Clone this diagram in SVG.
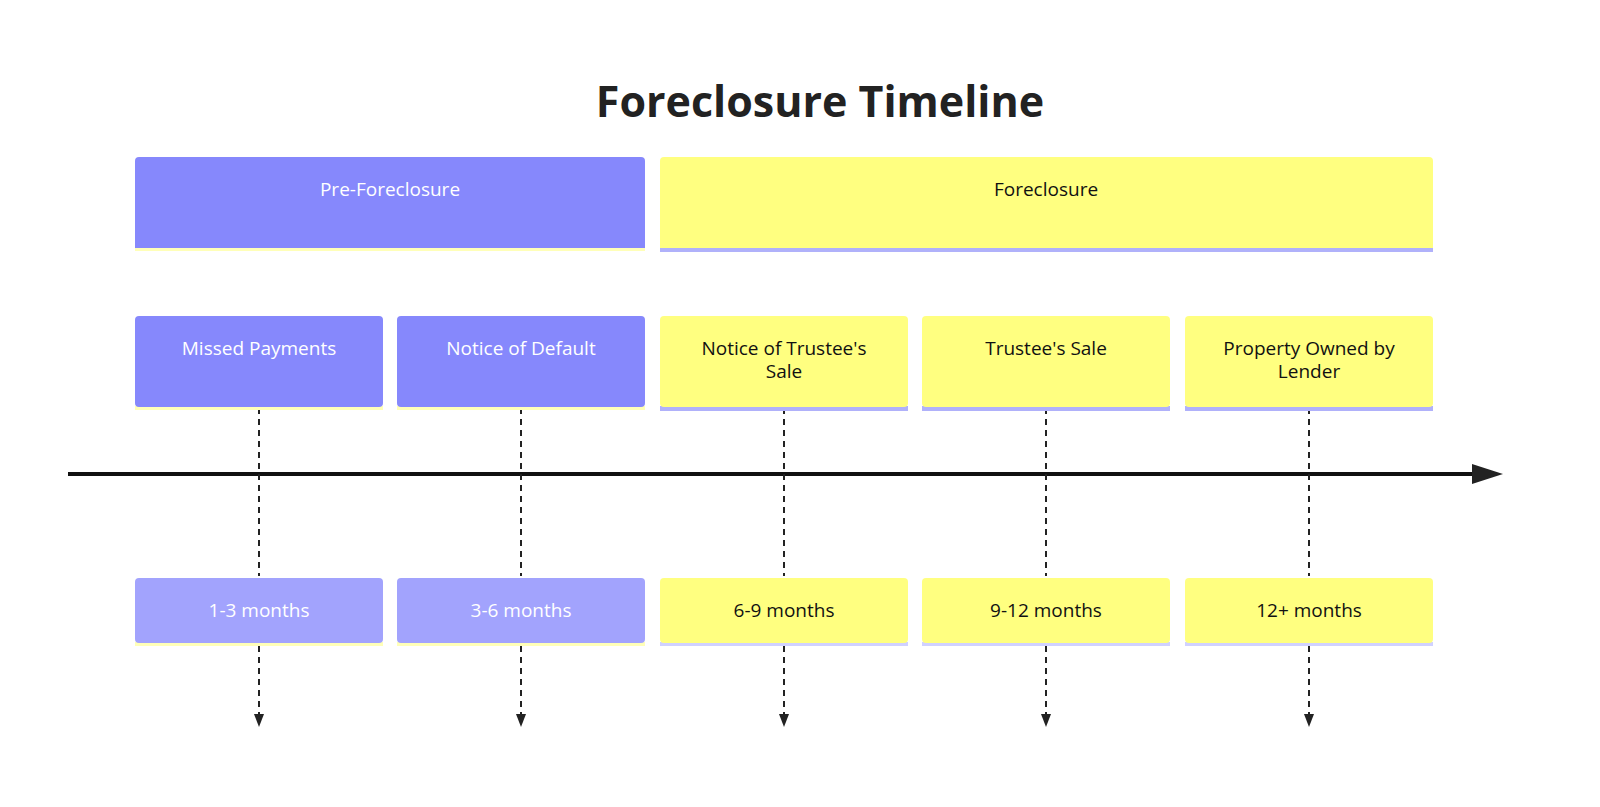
<svg xmlns="http://www.w3.org/2000/svg" width="1600" height="807" viewBox="0 0 1600 807">
<style>
text{font-family:"Open Sans","Noto Sans",sans-serif;text-anchor:middle}
.t{font-size:19px}
.w{fill:#ffffff}.k{fill:#111111}
.p{fill:#8688fc}.pl{fill:#a2a3fd}.y{fill:#ffff80}
.sy{fill:#ffffb8}.sp{fill:#b0b1fa}.sl{fill:#d0d1ff}
.d{stroke:#222;stroke-width:2;stroke-dasharray:6 5;fill:none}
</style>
<text x="820" y="117" font-size="43" font-weight="bold" fill="#222">Foreclosure Timeline</text>
<g id="connectors">
<line x1="68" y1="474" x2="1475" y2="474" stroke="#111" stroke-width="4"/>
<path d="M1472,464 L1503,474 L1472,484 z" fill="#222"/>
<g class="d">
<path d="M259,408 V576 M521,408 V576 M784,408 V576 M1046,408 V576 M1309,408 V576"/>
<path d="M259,646 V718 M521,646 V718 M784,646 V718 M1046,646 V718 M1309,646 V718"/>
</g>
<g fill="#222">
<path d="M254,714 L264,714 L259,727 z"/><path d="M516,714 L526,714 L521,727 z"/><path d="M779,714 L789,714 L784,727 z"/><path d="M1041,714 L1051,714 L1046,727 z"/><path d="M1304,714 L1314,714 L1309,727 z"/>
</g>
</g>
<g id="sec-pre"><rect x="135" y="247" width="510" height="4" class="sy"/><rect x="135" y="157" width="510" height="91" rx="4" class="p"/><rect x="135" y="240" width="510" height="8" class="p"/><text x="390" y="196" class="t w">Pre-Foreclosure</text></g>
<g id="sec-fore"><rect x="660" y="247" width="773" height="5" class="sp"/><rect x="660" y="157" width="773" height="91" rx="4" class="y"/><rect x="660" y="240" width="773" height="8" class="y"/><text x="1046" y="196" class="t k">Foreclosure</text></g>
<g id="task1"><rect x="135" y="406" width="248" height="4" class="sy"/><rect x="135" y="316" width="248" height="91" rx="4" class="p"/><text x="259" y="355" class="t w">Missed Payments</text></g>
<g id="task2"><rect x="397" y="406" width="248" height="4" class="sy"/><rect x="397" y="316" width="248" height="91" rx="4" class="p"/><text x="521" y="355" class="t w">Notice of Default</text></g>
<g id="task3"><rect x="660" y="406" width="248" height="5" class="sp"/><rect x="660" y="316" width="248" height="91" rx="4" class="y"/><text x="784" y="355" class="t k">Notice of Trustee's</text><text x="784" y="378" class="t k">Sale</text></g>
<g id="task4"><rect x="922" y="406" width="248" height="5" class="sp"/><rect x="922" y="316" width="248" height="91" rx="4" class="y"/><text x="1046" y="355" class="t k">Trustee's Sale</text></g>
<g id="task5"><rect x="1185" y="406" width="248" height="5" class="sp"/><rect x="1185" y="316" width="248" height="91" rx="4" class="y"/><text x="1309" y="355" class="t k">Property Owned by</text><text x="1309" y="378" class="t k">Lender</text></g>
<g id="per1"><rect x="135" y="642" width="248" height="4" class="sy"/><rect x="135" y="578" width="248" height="65" rx="4" class="pl"/><text x="259" y="617" class="t w">1-3 months</text></g>
<g id="per2"><rect x="397" y="642" width="248" height="4" class="sy"/><rect x="397" y="578" width="248" height="65" rx="4" class="pl"/><text x="521" y="617" class="t w">3-6 months</text></g>
<g id="per3"><rect x="660" y="642" width="248" height="4" class="sl"/><rect x="660" y="578" width="248" height="65" rx="4" class="y"/><text x="784" y="617" class="t k">6-9 months</text></g>
<g id="per4"><rect x="922" y="642" width="248" height="4" class="sl"/><rect x="922" y="578" width="248" height="65" rx="4" class="y"/><text x="1046" y="617" class="t k">9-12 months</text></g>
<g id="per5"><rect x="1185" y="642" width="248" height="4" class="sl"/><rect x="1185" y="578" width="248" height="65" rx="4" class="y"/><text x="1309" y="617" class="t k">12+ months</text></g>
</svg>
